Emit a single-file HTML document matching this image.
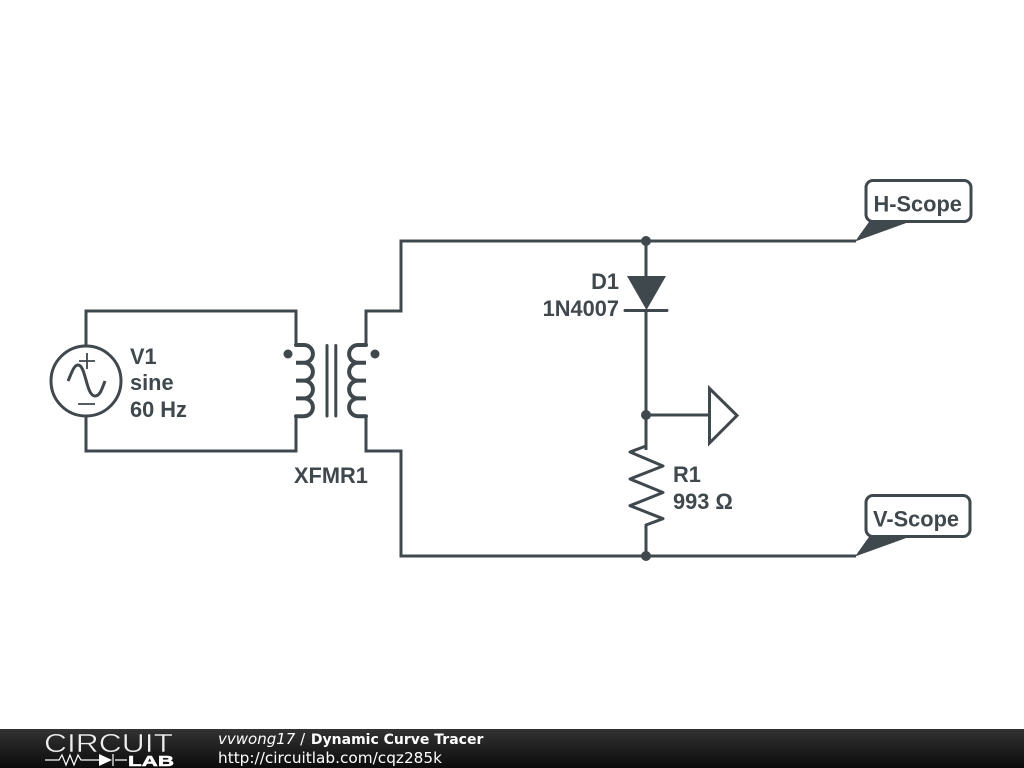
<!DOCTYPE html>
<html>
<head>
<meta charset="utf-8">
<style>
html,body{margin:0;padding:0;background:#fff;width:1024px;height:768px;overflow:hidden}
svg{display:block}
.l{font-family:"Liberation Sans",sans-serif;font-weight:bold;font-size:21.800px;fill:#3f484d}
.f{font-family:"DejaVu Sans",sans-serif;font-size:15px;fill:#fff}
</style>
</head>
<body>
<svg width="1024" height="768" viewBox="0 0 1024 768" xmlns="http://www.w3.org/2000/svg">
<defs>
<linearGradient id="g" x1="0" y1="0" x2="0" y2="1">
<stop offset="0" stop-color="#333"/>
<stop offset="1" stop-color="#0c0c0c"/>
</linearGradient>
</defs>
<g fill="none" stroke="#3f484d" stroke-width="3" stroke-linejoin="miter">
<path d="M296 345V311H86V346"/>
<path d="M86 416V451H296V416"/>
<path d="M366 345V311H401V241H856"/>
<path d="M366 416V451H401V556H856"/>
<circle cx="86" cy="381" r="35"/>
<path d="M79 361H95M87 353V369M78 404H95" stroke-width="1.800"/>
<path d="M68 381C72 372 74 365 78 365C86 365 86 396 95 396C100 396 102 389 105 381" stroke-width="3"/>
<g stroke-linecap="round" stroke-width="4">
<path d="M296 345h8a8.900 8.900 0 0 1 0 17.800h-8h8a8.900 8.900 0 0 1 0 17.800h-8h8a8.900 8.900 0 0 1 0 17.800h-8h8a8.900 8.900 0 0 1 0 17.800h-8"/>
<path d="M366 345h-8a8.900 8.900 0 0 0 0 17.800h8h-8a8.900 8.900 0 0 0 0 17.800h8h-8a8.900 8.900 0 0 0 0 17.800h8h-8a8.900 8.900 0 0 0 0 17.800h8"/>
</g>
<path d="M327 345.500V416M335.800 345.500V416" stroke-linecap="round"/>
<path d="M646 241V277M646 310V450"/>
<path d="M625 310.500H667" stroke-linecap="round"/>
<path d="M646 415H709"/>
<path d="M709.500 388.500L737 415.500L709.500 443Z"/>
<path d="M646 446L630 452L663 466L630 479L663 492.500L630 505.700L663 518.700L646 525V556" stroke-linejoin="round"/>
<rect x="866" y="180.500" width="105" height="41" rx="7"/>
<rect x="866" y="495.500" width="104" height="41" rx="7"/>
</g>
<g fill="#3f484d">
<path d="M627 276H666L646.500 310Z"/>
<circle cx="288" cy="354" r="4.500"/>
<circle cx="375" cy="354" r="4.500"/>
<circle cx="646" cy="241" r="5"/>
<circle cx="646" cy="415" r="5"/>
<circle cx="646" cy="556" r="5"/>
<path d="M855 241.500L870 220.500H913Z"/>
<path d="M855 556.500L870 535.500H913Z"/>
</g>
<text class="l" x="130" y="364">V1</text>
<text class="l" x="130" y="390">sine</text>
<text class="l" x="130" y="417">60 Hz</text>
<text class="l" x="294" y="483">XFMR1</text>
<text class="l" x="619" y="289" text-anchor="end">D1</text>
<text class="l" x="619" y="316" text-anchor="end">1N4007</text>
<text class="l" x="673" y="482">R1</text>
<text class="l" x="673" y="509">993 Ω</text>
<text class="l" x="873.500" y="211.500">H-Scope</text>
<text class="l" x="873" y="526.500">V-Scope</text>
<rect x="0" y="729" width="1024" height="39" fill="url(#g)"/>
<text x="44" y="752" font-family="Liberation Sans,sans-serif" font-size="26" fill="#eee" stroke="#222" stroke-width="0.500" textLength="129" lengthAdjust="spacingAndGlyphs">CIRCUIT</text>
<path d="M45 760H59L62 755L66 765L70 755L74 765L78 755L81 760H99M115 760H127M113 754V766" fill="none" stroke="#fff" stroke-width="1.200"/>
<path d="M99 754L112 760L99 766Z" fill="#fff"/>
<text x="128" y="766" font-family="Liberation Sans,sans-serif" font-weight="bold" font-size="15" fill="#fff" stroke="#fff" stroke-width="0.500" textLength="46" lengthAdjust="spacingAndGlyphs">LAB</text>
<text class="f" x="218" y="744"><tspan font-style="italic">vvwong17</tspan> / <tspan font-weight="bold" font-size="14" dx="1">Dynamic Curve Tracer</tspan></text>
<text class="f" x="218" y="763" textLength="224" lengthAdjust="spacingAndGlyphs">http://circuitlab.com/cqz285k</text>
</svg>
</body>
</html>
